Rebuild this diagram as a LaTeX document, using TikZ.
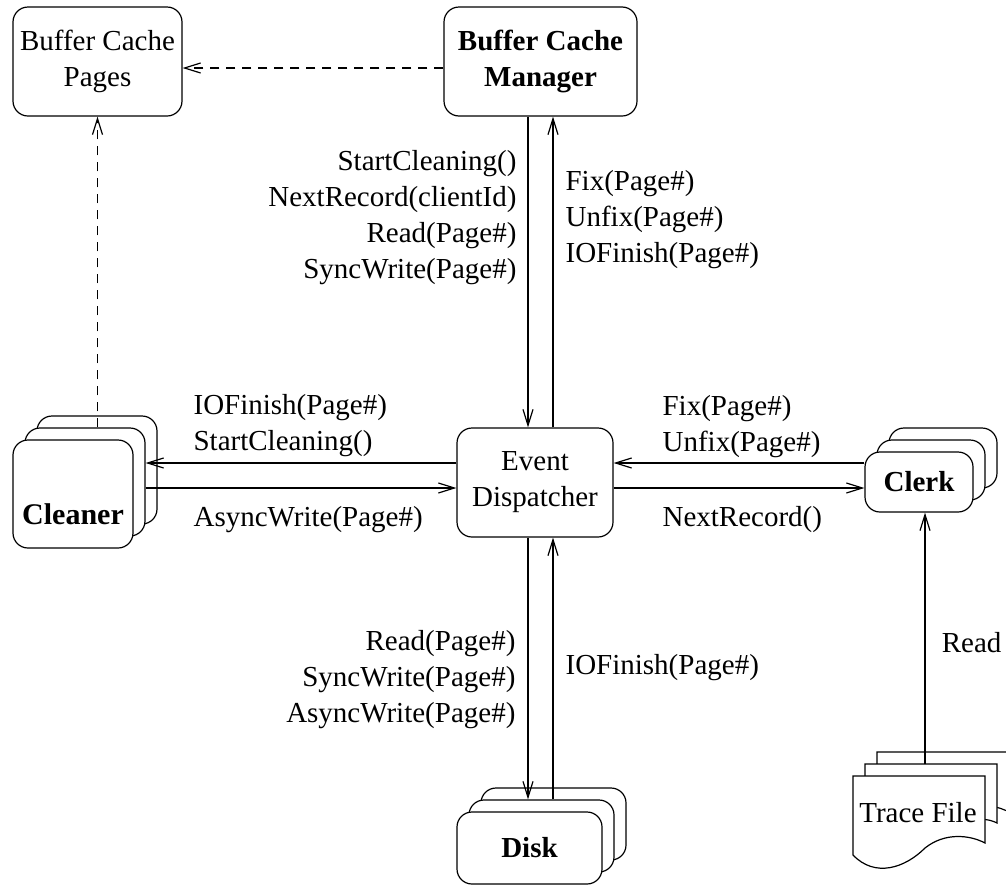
\documentclass[tikz,border=0pt]{standalone}
\usepackage{fontspec}
\setmainfont{Liberation Serif}
\usetikzlibrary{arrows.meta}
\newcommand\figfont{\fontsize{29}{36}\selectfont}

\begin{document}
\begin{tikzpicture}[x=1pt, y=-1pt, line width=1.2pt, font=\figfont]
    \tikzstyle{box}=[draw, fill=white, rounded corners=15pt, inner sep=0pt, align=center]
    \tikzstyle{msg}=[inner sep=0pt]
    \tikzstyle{call}=[-{Straight Barb[length=16pt,width=10pt]}]
    \tikzstyle{ref}=[call, dash pattern=on 9pt off 7pt]
    \useasboundingbox (0,0) rectangle (1006,884);

    % buffer cache
    \node[box, minimum width=169pt, minimum height=109pt] (bcp) at (97.5,61.5) {Buffer Cache\\Pages};
    \node[box, minimum width=193pt, minimum height=109pt, font=\figfont\bfseries] (bcm) at (540.5,61.5) {Buffer Cache\\Manager};
    \node[box, minimum width=156pt, minimum height=109pt] (ed) at (535,482.5) {Event\\Dispatcher};

    % cleaners
    \node[box, minimum width=120pt, minimum height=108pt] (cleaner3) at (97,470) {};
    \node[box, minimum width=120pt, minimum height=108pt] (cleaner2) at (85,482) {};
    \node[box, minimum width=120pt, minimum height=108pt] (cleaner) at (73,494) {};
    \node[font=\fontsize{30}{36}\selectfont\bfseries] (cleanername) at (73,514) {Cleaner};

    % clerks
    \node[box, minimum width=108pt, minimum height=60pt] (clerk3) at (943,458) {};
    \node[box, minimum width=108pt, minimum height=60pt] (clerk2) at (931,470) {};
    \node[box, minimum width=108pt, minimum height=60pt, font=\figfont\bfseries] (clerk) at (919,482) {Clerk};

    % disks
    \node[box, minimum width=145pt, minimum height=72pt] (disk3) at (553.5,824) {};
    \node[box, minimum width=145pt, minimum height=72pt] (disk2) at (541.5,836) {};
    \node[box, minimum width=145pt, minimum height=72pt, font=\figfont\bfseries] (disk) at (529.5,848) {Disk};

    % trace file pages
    \filldraw[fill=white] (877,752) -- (1015,752) -- (1015,815) .. controls (1005,810) and (990,800) .. (965,812) .. controls (935,830) and (905,850) .. (877,831) -- cycle;
    \filldraw[fill=white] (865,764) -- (997,764) -- (997,823) .. controls (982,815) and (957,820) .. (937,836) .. controls (917,856) and (887,866) .. (865,843) -- cycle;
    \filldraw[fill=white] (853,776) -- (985,776) -- (985,843) .. controls (970,835) and (945,832) .. (925,848) .. controls (905,868) and (875,878) .. (853,855) -- cycle;
    \node (trace) at (918,813) {Trace File};
    \coordinate (tracetop) at (925,764);

    % message labels
    \node[msg, anchor=east, align=right] (bcmout) at (517,218) {StartCleaning()\\NextRecord(clientId)\\Read(Page\#)\\SyncWrite(Page\#)};
    \node[msg, anchor=west, align=left] (bcmin) at (565,220) {Fix(Page\#)\\Unfix(Page\#)\\IOFinish(Page\#)};
    \node[msg, anchor=west, align=left] (cleanerin) at (193,425.5) {IOFinish(Page\#)\\StartCleaning()};
    \node[msg, anchor=west] (cleanerout) at (193,520) {AsyncWrite(Page\#)};
    \node[msg, anchor=west, align=left] (clerkin) at (662,427) {Fix(Page\#)\\Unfix(Page\#)};
    \node[msg, anchor=west] (clerkout) at (662,520) {NextRecord()};
    \node[msg, anchor=east, align=right] (diskin) at (516,680) {Read(Page\#)\\SyncWrite(Page\#)\\AsyncWrite(Page\#)};
    \node[msg, anchor=west] (diskout) at (565,668) {IOFinish(Page\#)};
    \node[msg, anchor=east] (traceread) at (1002,643) {Read};

    % connectors
    \coordinate (vl) at (528,0);
    \coordinate (vr) at (553,0);
    \coordinate (hu) at (0,463);
    \coordinate (hd) at (0,488);
    \coordinate (hdash) at (0,68);
    \draw[ref] (bcm.west |- hdash) -- (bcp.east |- hdash);
    \draw[ref] (cleaner2.north -| bcp.south) -- (bcp.south);
    \draw[call] (bcm.south -| vl) -- (ed.north -| vl);
    \draw[call] (ed.north -| vr) -- (bcm.south -| vr);
    \draw[call] (ed.west |- hu) -- (cleaner2.east |- hu);
    \draw[call] (cleaner2.east |- hd) -- (ed.west |- hd);
    \draw[call] (clerk.west |- hu) -- (ed.east |- hu);
    \draw[call] (ed.east |- hd) -- (clerk.west |- hd);
    \draw[call] (ed.south -| vl) -- (disk2.north -| vl);
    \draw[call] (disk2.north -| vr) -- (ed.south -| vr);
    \draw[call] (tracetop) -- (clerk.south -| tracetop);
\end{tikzpicture}
\end{document}
